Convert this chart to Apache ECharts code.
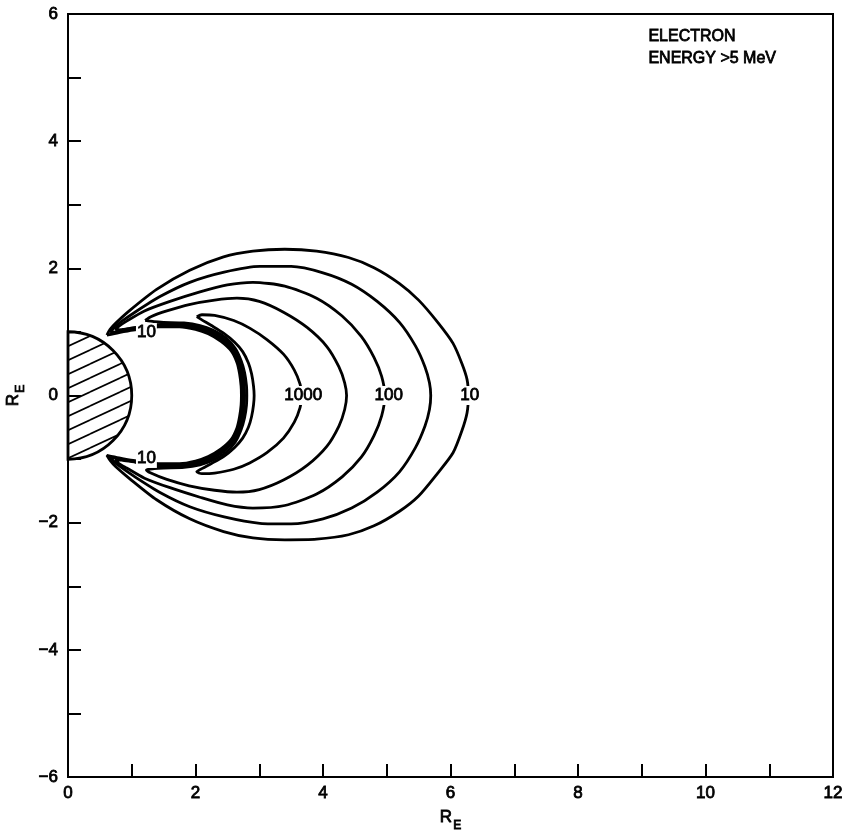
<!DOCTYPE html>
<html><head><meta charset="utf-8">
<script src="https://cdn.jsdelivr.net/npm/echarts@6/dist/echarts.min.js"></script>
<style>html,body{margin:0;padding:0;background:#fff}#c{width:845px;height:830px}</style>
</head><body><div id="c"></div><script>
// ---- data (R_E units) ----
const xRange = [0, 12];
const yRange = [-6, 6];
const earthCenter = [0, 0];
const earthRadius = 1;

// closed contour loops: upper outer -> lower outer -> lower inner -> upper inner
const contour10 = [
  [0.61,0.95],[0.66,1.04],[0.75,1.14],[0.97,1.34],[1.39,1.67],[1.91,1.97],[2.44,2.18],[2.9,2.27],[3.4,2.30],[3.9,2.27],[4.4,2.17],[4.8,2.01],[5.2,1.76],[5.5,1.5],[5.8,1.15],[6.04,0.82],[6.18,0.5],[6.26,0.25],[6.28,0],
  [6.26,-0.27],[6.18,-0.55],[6.04,-0.9],[5.8,-1.22],[5.5,-1.58],[5.2,-1.82],[4.8,-2.05],[4.4,-2.19],[3.9,-2.26],[3.4,-2.27],[2.9,-2.24],[2.44,-2.14],[1.91,-1.94],[1.39,-1.64],[0.97,-1.31],[0.75,-1.12],[0.66,-1.02],[0.61,-0.94],
  [0.8,-0.98],[1.02,-1.02],[1.42,-1.07],[1.75,-1.07],[2.0,-1.03],[2.2,-0.96],[2.4,-0.84],[2.56,-0.69],[2.65,-0.51],[2.69,-0.34],[2.715,-0.15],
  [2.72,0],[2.715,0.15],[2.69,0.35],[2.65,0.52],[2.56,0.7],[2.4,0.85],[2.2,0.97],[2.0,1.04],[1.75,1.08],[1.42,1.08],[1.02,1.03],[0.8,0.99],[0.61,0.95]
];
const contour30 = [
  [0.66,0.99],[0.72,1.06],[0.82,1.15],[1.05,1.31],[1.45,1.56],[1.91,1.78],[2.45,1.94],[3.01,2.03],[3.5,2.03],[4.0,1.93],[4.45,1.75],[4.85,1.48],[5.2,1.15],[5.45,0.78],[5.6,0.45],[5.67,0.2],[5.69,0],
  [5.67,-0.22],[5.6,-0.48],[5.45,-0.82],[5.2,-1.2],[4.85,-1.52],[4.45,-1.77],[4.0,-1.94],[3.5,-2.02],[3.01,-2.01],[2.45,-1.91],[1.91,-1.75],[1.45,-1.53],[1.05,-1.28],[0.82,-1.12],[0.72,-1.04],[0.66,-0.97],
  [0.82,-1.0],[1.04,-1.04],[1.44,-1.09],[1.77,-1.09],[2.02,-1.05],[2.22,-0.98],[2.42,-0.86],[2.58,-0.7],[2.67,-0.52],[2.715,-0.34],[2.74,-0.15],
  [2.745,0],[2.74,0.15],[2.715,0.35],[2.67,0.53],[2.58,0.71],[2.42,0.87],[2.22,0.99],[2.02,1.06],[1.77,1.10],[1.44,1.10],[1.04,1.05],[0.82,1.01],[0.66,0.99]
];
const contour100 = [
  [0.74,1.03],[0.8,1.09],[0.92,1.17],[1.2,1.33],[1.6,1.48],[2.07,1.63],[2.5,1.74],[2.9,1.78],[3.4,1.72],[3.9,1.53],[4.3,1.25],[4.6,0.93],[4.8,0.6],[4.92,0.3],[4.97,0],
  [4.92,-0.32],[4.8,-0.63],[4.6,-0.97],[4.3,-1.28],[3.9,-1.55],[3.4,-1.73],[2.9,-1.77],[2.5,-1.72],[2.07,-1.6],[1.6,-1.45],[1.2,-1.3],[0.92,-1.14],[0.8,-1.07],[0.74,-1.01],
  [0.86,-1.02],[1.06,-1.05],[1.46,-1.11],[1.79,-1.11],[2.04,-1.07],[2.24,-1.0],[2.44,-0.88],[2.6,-0.71],[2.69,-0.53],[2.74,-0.35],[2.765,-0.15],
  [2.77,0],[2.765,0.15],[2.74,0.36],[2.69,0.54],[2.6,0.72],[2.44,0.89],[2.24,1.01],[2.04,1.08],[1.79,1.12],[1.46,1.12],[1.06,1.07],[0.86,1.04],[0.74,1.03]
];
const contour300 = [
  [1.21,1.18],[1.3,1.24],[1.55,1.33],[1.9,1.43],[2.3,1.5],[2.65,1.53],[3.0,1.48],[3.38,1.31],[3.75,1.07],[4.06,0.77],[4.25,0.45],[4.34,0.2],[4.37,0],
  [4.34,-0.22],[4.25,-0.48],[4.06,-0.8],[3.75,-1.1],[3.38,-1.33],[3.0,-1.48],[2.65,-1.52],[2.3,-1.49],[1.9,-1.42],[1.55,-1.32],[1.3,-1.22],[1.23,-1.17],
  [1.35,-1.15],[1.5,-1.14],[1.82,-1.13],[2.07,-1.09],[2.27,-1.02],[2.47,-0.9],[2.625,-0.73],[2.715,-0.54],[2.77,-0.35],[2.8,-0.15],
  [2.805,0],[2.8,0.15],[2.77,0.36],[2.715,0.55],[2.625,0.74],[2.47,0.91],[2.27,1.03],[2.07,1.10],[1.82,1.14],[1.5,1.15],[1.35,1.16],[1.21,1.18]
];
const contour1000 = [
  [2.02,1.24],[2.1,1.27],[2.3,1.26],[2.6,1.18],[2.85,1.06],[3.12,0.88],[3.38,0.65],[3.55,0.4],[3.64,0.18],[3.67,0],
  [3.64,-0.19],[3.55,-0.42],[3.38,-0.67],[3.12,-0.9],[2.85,-1.06],[2.6,-1.16],[2.3,-1.22],[2.1,-1.23],[2.02,-1.2],
  [2.1,-1.15],[2.25,-1.07],[2.44,-0.96],[2.61,-0.82],[2.74,-0.67],[2.83,-0.5],[2.88,-0.33],[2.91,-0.15],
  [2.92,0],[2.91,0.15],[2.88,0.34],[2.83,0.51],[2.74,0.69],[2.61,0.84],[2.44,0.98],[2.25,1.1],[2.1,1.19],[2.02,1.24]
];
const contourLabels = [
  [3.69, 0, '1000'],
  [5.03, 0, '100'],
  [6.30, 0, '10'],
  [1.23, 0.99, '10'],
  [1.23, -0.99, '10']
];
const noteLines = ['ELECTRON', 'ENERGY >5 MeV'];

// ---- chart ----
const FONT = 'Liberation Sans, Arial, Helvetica, sans-serif';
const hatch = document.createElement('canvas');
hatch.width = 30; hatch.height = 14;
(function(){
  const g = hatch.getContext('2d');
  g.strokeStyle = '#000'; g.lineWidth = 1.7;
  for (const dx of [-30, 0, 30]) for (const dy of [-14, 0, 14]) {
    g.beginPath(); g.moveTo(dx, 14 + dy); g.lineTo(30 + dx, dy); g.stroke();
  }
})();

const fmt = v => (v % 2 === 0 ? String(v).replace('-', '\u2212') : '');
const TB = {textBorderColor: '#000', textBorderWidth: 0.8};
const nameRich = {
  r: Object.assign({fontSize: 17, lineHeight: 20, verticalAlign: 'top', color: '#000', fontFamily: FONT}, TB),
  s: Object.assign({fontSize: 12, lineHeight: 12, padding: [12, 0, 0, 1], color: '#000', fontFamily: FONT}, TB)
};
const contourSeries = [contour10, contour30, contour100, contour300, contour1000].map(d => ({
  type: 'line', data: d, showSymbol: false, smooth: 0.25, silent: true,
  lineStyle: {color: '#000', width: 2.8}, z: 3
}));

const chart = echarts.init(document.getElementById('c'), null, {renderer: 'canvas'});
chart.setOption({
  animation: false,
  backgroundColor: '#fff',
  textStyle: {fontFamily: FONT},
  grid: {left: 68, right: 12, top: 14, bottom: 53, show: true, borderColor: '#000', borderWidth: 2,
         containLabel: false, outerBoundsMode: 'none'},
  xAxis: {
    type: 'value', min: xRange[0], max: xRange[1], interval: 1,
    name: '{r|R}{s|E}', nameLocation: 'middle', nameGap: 28,
    nameTextStyle: {rich: nameRich},
    axisLine: {show: true, onZero: false, lineStyle: {color: '#000', width: 2}},
    axisTick: {show: true, inside: true, length: 13, lineStyle: {color: '#000', width: 2}},
    axisLabel: Object.assign({formatter: fmt, color: '#000', fontSize: 17, margin: 8, fontFamily: FONT}, TB),
    splitLine: {show: false}
  },
  yAxis: {
    type: 'value', min: yRange[0], max: yRange[1], interval: 1,
    name: '{r|R}{s|E}', nameLocation: 'middle', nameGap: 34, nameRotate: 90,
    nameTextStyle: {rich: nameRich},
    axisLine: {show: true, onZero: false, lineStyle: {color: '#000', width: 2}},
    axisTick: {show: true, inside: true, length: 13, lineStyle: {color: '#000', width: 2}},
    axisLabel: Object.assign({formatter: fmt, color: '#000', fontSize: 17, margin: 10, fontFamily: FONT}, TB),
    splitLine: {show: false}
  },
  graphic: [{
    type: 'text', left: 648, top: 26, z: 20,
    style: {text: noteLines.join('\n'), fill: '#000', font: '16px ' + FONT, lineHeight: 22, stroke: '#000', lineWidth: 0.8}
  }],
  series: [
    {
      type: 'custom', silent: true, z: 2,
      data: [[earthCenter[0], earthCenter[1], earthRadius]],
      encode: {x: 0, y: 1},
      renderItem: function (params, api) {
        const c = api.coord([api.value(0), api.value(1)]);
        const r = api.size([api.value(2), 0])[0];
        return {
          type: 'sector',
          shape: {cx: c[0], cy: c[1], r0: 0, r: r, startAngle: -Math.PI / 2, endAngle: Math.PI / 2, clockwise: true},
          style: {fill: {image: hatch, repeat: 'repeat'}, stroke: '#000', lineWidth: 2.8}
        };
      }
    },
    ...contourSeries,
    {
      type: 'scatter', data: contourLabels, symbolSize: 0, silent: true, z: 10,
      itemStyle: {opacity: 1},
      label: Object.assign({
        show: true, position: 'inside', formatter: p => p.value[2],
        color: '#000', fontSize: 17, fontFamily: FONT, opacity: 1,
        backgroundColor: '#fff', padding: [1, 1]
      }, TB)
    }
  ]
});
</script></body></html>
